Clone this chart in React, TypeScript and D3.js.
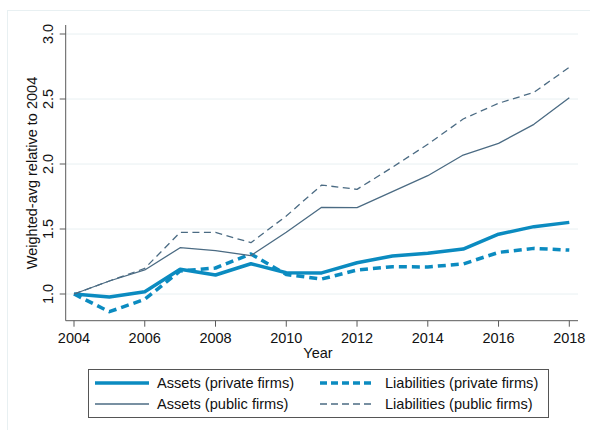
import React from "react";
import * as d3 from "d3";

const years = [2004, 2005, 2006, 2007, 2008, 2009, 2010, 2011, 2012, 2013, 2014, 2015, 2016, 2017, 2018];
const assetsPrivate = [1.0, 0.977, 1.018, 1.19, 1.146, 1.233, 1.164, 1.162, 1.24, 1.292, 1.313, 1.346, 1.46, 1.518, 1.551];
const liabilitiesPrivate = [1.0, 0.864, 0.959, 1.177, 1.2, 1.308, 1.15, 1.115, 1.185, 1.21, 1.208, 1.231, 1.32, 1.351, 1.338];
const assetsPublic = [1.0, 1.1, 1.185, 1.356, 1.333, 1.295, 1.475, 1.667, 1.664, 1.787, 1.91, 2.069, 2.159, 2.305, 2.51];
const liabilitiesPublic = [1.0, 1.1, 1.197, 1.474, 1.474, 1.395, 1.6, 1.838, 1.805, 1.975, 2.152, 2.346, 2.467, 2.551, 2.744];
const xTicks = [2004, 2006, 2008, 2010, 2012, 2014, 2016, 2018];
const yTicks = [1.0, 1.5, 2.0, 2.5, 3.0];

const BLUE = "#0b8bc0";
const SLATE = "#4b6b83";
const GRID = "#e8f0f2";
const AXIS = "#5a5a5a";
const FONT = "'Liberation Sans', Arial, sans-serif";

const series = [
  { name: "Assets (private firms)", values: assetsPrivate, color: BLUE, width: 3.5, dash: "" },
  { name: "Liabilities (private firms)", values: liabilitiesPrivate, color: BLUE, width: 3.5, dash: "8,5" },
  { name: "Assets (public firms)", values: assetsPublic, color: SLATE, width: 1.3, dash: "" },
  { name: "Liabilities (public firms)", values: liabilitiesPublic, color: SLATE, width: 1.3, dash: "7,4.5" },
];

export default function App() {
  const x = d3.scaleLinear().domain([2004, 2018]).range([74, 569.3]);
  const y = d3.scaleLinear().domain([1.0, 3.0]).range([294, 34]);
  const left = 65.7;
  const right = 578;
  const top = 25;
  const bottom = 320.7;

  const line = (vals: number[]) =>
    d3.line<number>().x((_, i) => x(years[i])).y((v) => y(v))(vals) || "";

  const legendItems = [
    { s: series[0], lx: 95, tx: 157, ly: 383 },
    { s: series[1], lx: 320, tx: 385, ly: 383 },
    { s: series[2], lx: 95, tx: 157, ly: 404 },
    { s: series[3], lx: 320, tx: 385, ly: 404 },
  ];

  return (
    <svg
      width={590}
      height={430}
      style={{ position: "absolute", left: 0, top: 0, background: "#fff" }}
      fontFamily={FONT}
    >
      <rect x={7.5} y={10.5} width={700} height={600} fill="#fff" stroke={GRID} strokeWidth={1} />
      {yTicks.map((t) => (
        <line key={"g" + t} x1={left} x2={right} y1={y(t)} y2={y(t)} stroke={GRID} strokeWidth={1} />
      ))}
      {series.map((s) => (
        <path
          key={s.name}
          d={line(s.values)}
          fill="none"
          stroke={s.color}
          strokeWidth={s.width}
          strokeDasharray={s.dash || undefined}
          strokeLinejoin="round"
        />
      ))}
      <line x1={left} x2={left} y1={top} y2={bottom} stroke={AXIS} strokeWidth={1} />
      <line x1={left} x2={right} y1={bottom} y2={bottom} stroke={AXIS} strokeWidth={1} />
      {yTicks.map((t) => (
        <g key={"y" + t}>
          <line x1={left - 6} x2={left} y1={y(t)} y2={y(t)} stroke={AXIS} strokeWidth={1} />
          <text
            transform={`translate(${53},${y(t)}) rotate(-90)`}
            textAnchor="middle"
            fontSize={14.5}
            fill="#111"
          >
            {t.toFixed(1)}
          </text>
        </g>
      ))}
      {xTicks.map((t) => (
        <g key={"x" + t}>
          <line x1={x(t)} x2={x(t)} y1={bottom} y2={bottom + 6} stroke={AXIS} strokeWidth={1} />
          <text x={x(t)} y={343} textAnchor="middle" fontSize={14.5} fill="#111">
            {t}
          </text>
        </g>
      ))}
      <text x={318} y={358} textAnchor="middle" fontSize={14.5} fill="#111">
        Year
      </text>
      <text
        transform={`translate(${37},${173}) rotate(-90)`}
        textAnchor="middle"
        fontSize={14.5}
        fill="#111"
      >
        Weighted-avg relative to 2004
      </text>
      <rect x={88.5} y={369.5} width={460} height={48} fill="#fff" stroke="#555" strokeWidth={1} />
      {legendItems.map(({ s, lx, tx, ly }) => (
        <g key={"l" + s.name}>
          <line
            x1={lx}
            x2={lx + 54}
            y1={ly}
            y2={ly}
            stroke={s.color}
            strokeWidth={s.width}
            strokeDasharray={s.dash ? "7,4" : undefined}
          />
          <text x={tx} y={ly + 5} fontSize={14.6} fill="#111">
            {s.name}
          </text>
        </g>
      ))}
    </svg>
  );
}
